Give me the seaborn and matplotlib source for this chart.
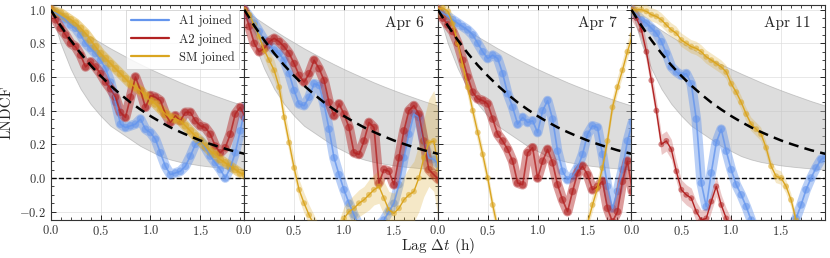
import matplotlib
matplotlib.use("Agg")
import matplotlib.pyplot as plt
import seaborn as sns
from matplotlib.lines import Line2D
from matplotlib.ticker import MultipleLocator

# lag grid (h) shared by all series
lag = [0.00, 0.05, 0.10, 0.15, 0.20, 0.25, 0.30, 0.35, 0.40, 0.45,
       0.50, 0.55, 0.60, 0.65, 0.70, 0.75, 0.80, 0.85, 0.90, 0.95,
       1.00, 1.05, 1.10, 1.15, 1.20, 1.25, 1.30, 1.35, 1.40, 1.45,
       1.50, 1.55, 1.60, 1.65, 1.70, 1.75, 1.80, 1.85, 1.90, 1.95]

# model curve and its envelope
model_t = [0.0, 0.1, 0.2, 0.3, 0.4, 0.5, 0.6, 0.7, 0.8, 0.9, 1.0,
           1.1, 1.2, 1.3, 1.4, 1.5, 1.6, 1.7, 1.8, 1.9, 2.0]
model_fit = [1.00, 0.905, 0.819, 0.741, 0.670, 0.607, 0.549, 0.497, 0.449, 0.407, 0.368,
             0.333, 0.301, 0.273, 0.247, 0.223, 0.202, 0.183, 0.165, 0.150, 0.135]
model_hi = [1.00, 0.957, 0.917, 0.878, 0.840, 0.805, 0.770, 0.738, 0.706, 0.676, 0.647,
            0.620, 0.594, 0.568, 0.544, 0.521, 0.499, 0.478, 0.457, 0.438, 0.419]
model_lo = [1.00, 0.80, 0.65, 0.53, 0.44, 0.37, 0.31, 0.27, 0.23, 0.19, 0.16,
            0.13, 0.11, 0.095, 0.085, 0.075, 0.068, 0.062, 0.057, 0.052, 0.048]

# all days joined
a1_all = [1.00, 0.98, 0.96, 0.94, 0.91, 0.89, 0.85, 0.80, 0.77, 0.74,
          0.70, 0.65, 0.57, 0.45, 0.32, 0.30, 0.31, 0.32, 0.35, 0.29,
          0.27, 0.23, 0.15, 0.07, 0.02, 0.03, 0.04, 0.07, 0.13, 0.20,
          0.22, 0.18, 0.13, 0.09, 0.05, 0.00, 0.06, 0.15, 0.28, 0.42]
a2_all = [1.00, 0.94, 0.89, 0.85, 0.80, 0.78, 0.73, 0.66, 0.69, 0.66,
          0.62, 0.57, 0.53, 0.48, 0.39, 0.36, 0.48, 0.60, 0.52, 0.42,
          0.49, 0.48, 0.46, 0.38, 0.33, 0.37, 0.34, 0.39, 0.39, 0.34,
          0.31, 0.30, 0.26, 0.19, 0.15, 0.18, 0.26, 0.38, 0.42, 0.36]
sm_all = [1.00, 0.99, 0.98, 0.96, 0.94, 0.92, 0.89, 0.86, 0.82, 0.78,
          0.74, 0.71, 0.68, 0.65, 0.62, 0.59, 0.56, 0.54, 0.52, 0.49,
          0.46, 0.44, 0.41, 0.38, 0.36, 0.35, 0.34, 0.31, 0.28, 0.25,
          0.22, 0.19, 0.16, 0.14, 0.11, 0.09, 0.07, 0.05, 0.03, 0.02]

# Apr 6
a1_apr6 = [1.00, 0.96, 0.92, 0.87, 0.82, 0.79, 0.76, 0.74, 0.70, 0.62,
           0.52, 0.44, 0.43, 0.48, 0.56, 0.55, 0.44, 0.29, 0.12, 0.02,
           -0.07, -0.15, -0.22, -0.28, -0.30, -0.30, -0.30, -0.28, -0.25, -0.20,
           -0.15, -0.04, 0.12, 0.26, 0.38, 0.36, 0.21, 0.12, 0.11, 0.08]
a2_apr6 = [1.00, 0.90, 0.80, 0.75, 0.77, 0.81, 0.83, 0.81, 0.78, 0.74,
           0.68, 0.61, 0.57, 0.62, 0.70, 0.65, 0.58, 0.45, 0.37, 0.44,
           0.38, 0.30, 0.15, 0.14, 0.22, 0.33, 0.30, -0.03, 0.05, 0.04,
           -0.04, 0.12, 0.28, 0.40, 0.43, 0.38, 0.22, 0.05, 0.02, -0.01]
sm_apr6 = [1.00, 0.97, 0.91, 0.84, 0.76, 0.70, 0.64, 0.54, 0.36, 0.21,
           0.06, -0.07, -0.15, -0.22, -0.28, -0.34, -0.38, -0.40, -0.38, -0.32,
           -0.24, -0.20, -0.18, -0.15, -0.13, -0.10, -0.07, -0.05, -0.12, -0.19,
           -0.21, -0.18, -0.13, -0.10, -0.08, 0.00, 0.12, 0.21, 0.22, 0.05]
sm_apr6_err = [0.02, 0.03, 0.04, 0.05, 0.05, 0.06, 0.06, 0.06, 0.06, 0.06,
               0.06, 0.06, 0.06, 0.06, 0.06, 0.06, 0.06, 0.06, 0.07, 0.07,
               0.07, 0.07, 0.08, 0.08, 0.08, 0.09, 0.09, 0.10, 0.10, 0.11,
               0.12, 0.13, 0.14, 0.16, 0.18, 0.20, 0.23, 0.26, 0.30, 0.32]

# Apr 7
a1_apr7 = [1.00, 0.98, 0.96, 0.94, 0.92, 0.90, 0.88, 0.85, 0.80, 0.75,
           0.71, 0.73, 0.71, 0.62, 0.50, 0.42, 0.32, 0.36, 0.33, 0.34,
           0.27, 0.40, 0.46, 0.35, 0.16, 0.04, -0.01, 0.01, 0.06, 0.14,
           0.26, 0.31, 0.30, 0.14, -0.05, -0.18, -0.08, 0.05, 0.22, 0.33]
a2_apr7 = [1.00, 0.95, 0.91, 0.87, 0.80, 0.70, 0.60, 0.51, 0.47, 0.46,
           0.44, 0.35, 0.26, 0.22, 0.17, 0.10, -0.03, -0.04, 0.15, 0.18,
           0.00, 0.10, 0.17, 0.09, -0.04, -0.13, -0.20, -0.08, 0.03, 0.07,
           0.02, -0.07, -0.05, -0.02, -0.18, -0.26, -0.20, -0.02, 0.10, -0.08]
sm_apr7 = [1.00, 1.01, 0.99, 0.92, 0.80, 0.67, 0.54, 0.40, 0.27, 0.14,
           0.00, -0.16, -0.30, -0.40, -0.46, -0.50, -0.52, -0.53, -0.54, -0.54,
           -0.54, -0.54, -0.54, -0.53, -0.52, -0.51, -0.50, -0.48, -0.45, -0.38,
           -0.27, -0.16, -0.06, 0.06, 0.22, 0.42, 0.54, 0.64, 0.75, 0.85]

# Apr 11
a1_apr11 = [1.00, 0.97, 0.94, 0.92, 0.89, 0.86, 0.81, 0.74, 0.66, 0.63,
            0.61, 0.62, 0.56, 0.35, -0.03, -0.17, 0.03, 0.21, 0.29, 0.16,
            0.05, -0.04, -0.10, -0.17, -0.25, -0.32, -0.36, -0.38, -0.40, -0.40,
            -0.38, -0.34, -0.30, -0.24, -0.16, -0.07, 0.00, 0.06, 0.11, 0.13]
a2_apr11 = [1.00, 0.95, 0.88, 0.75, 0.58, 0.40, 0.20, 0.22, 0.17, 0.04,
            -0.07, -0.10, -0.12, -0.20, -0.25, -0.24, -0.14, -0.05, -0.16, -0.24,
            -0.30, -0.35, -0.38, -0.40, -0.40, -0.40, -0.40, -0.40, -0.40, -0.40,
            -0.40, -0.40, -0.40, -0.40, -0.40, -0.40, -0.40, -0.40, -0.40, -0.40]
sm_apr11 = [1.00, 1.00, 1.00, 0.99, 0.97, 0.96, 0.94, 0.91, 0.88, 0.86,
            0.82, 0.80, 0.78, 0.77, 0.75, 0.72, 0.70, 0.68, 0.66, 0.63,
            0.56, 0.51, 0.45, 0.38, 0.32, 0.29, 0.26, 0.18, 0.07, 0.01,
            0.00, -0.05, -0.13, -0.25, -0.35, -0.42, -0.48, -0.52, -0.55, -0.57]

panel_titles = ["", "Apr 6", "Apr 7", "Apr 11"]
series_names = ["A1 joined", "A2 joined", "SM joined"]
colors = ["#6495ED", "#B22222", "#DAA520"]

# (values, band half-width or None for the dense ones)
panels = [
    [(a1_all, None), (a2_all, None), (sm_all, None)],
    [(a1_apr6, None), (a2_apr6, None), (sm_apr6, sm_apr6_err)],
    [(a1_apr7, None), (a2_apr7, None), (sm_apr7, 0.05)],
    [(a1_apr11, None), (a2_apr11, 0.06), (sm_apr11, 0.04)],
]

sns.set_style("ticks")
plt.rcParams["font.family"] = ["cmr10"]
plt.rcParams["mathtext.fontset"] = "cm"
plt.rcParams["axes.formatter.use_mathtext"] = True

fig, axes = plt.subplots(1, 4, figsize=(8.3, 2.58), dpi=100, sharey=True)
fig.subplots_adjust(left=0.061, right=0.994, top=0.982, bottom=0.147, wspace=0)

for i, ax in enumerate(axes):
    ax.fill_between(model_t, model_lo, model_hi, color="#BDBDBD", alpha=0.5,
                    edgecolor="#999999", linewidth=0.6, zorder=1)
    ax.axhline(0, color="black", ls="--", lw=1.0, zorder=2)

    for (vals, err), c in zip(panels[i], colors):
        if err is None:
            sns.lineplot(x=lag, y=vals, ax=ax, color=c, lw=7, alpha=0.45, zorder=3,
                         solid_capstyle="round", solid_joinstyle="round")
            sns.scatterplot(x=lag, y=vals, ax=ax, color=c, s=30, alpha=0.6,
                            edgecolor="none", zorder=3)
            sns.lineplot(x=lag, y=vals, ax=ax, color=c, lw=1.2, alpha=0.8, zorder=4)
        else:
            if isinstance(err, float):
                lo = [v - err for v in vals]
                hi = [v + err for v in vals]
            else:
                lo = [v - e for v, e in zip(vals, err)]
                hi = [v + e for v, e in zip(vals, err)]
            ax.fill_between(lag, lo, hi, color=c, alpha=0.25, lw=0, zorder=3)
            sns.scatterplot(x=lag, y=vals, ax=ax, color=c, s=18, alpha=0.55,
                            edgecolor="none", zorder=3)
            sns.lineplot(x=lag, y=vals, ax=ax, color=c, lw=1.0, zorder=4)

    ax.plot(model_t, model_fit, color="black", ls=(0, (4, 2.5)), lw=1.8, zorder=5)

    ax.set_xlim(0, 1.94)
    ax.set_ylim(-0.25, 1.03)
    ax.xaxis.set_major_locator(MultipleLocator(0.5))
    ax.xaxis.set_minor_locator(MultipleLocator(0.1))
    ax.yaxis.set_major_locator(MultipleLocator(0.2))
    ax.yaxis.set_minor_locator(MultipleLocator(0.05))
    ax.tick_params(which="both", direction="in", top=True, right=True,
                   labelsize=9, pad=3, labelcolor="#333333")
    ax.tick_params(which="major", length=3.5, width=0.7)
    ax.tick_params(which="minor", length=2, width=0.6)
    ax.grid(True, which="major", color="#DDDDDD", lw=0.6, alpha=0.8)
    ax.set_axisbelow(True)
    for sp in ax.spines.values():
        sp.set_linewidth(0.8)
        sp.set_color("#333333")
    ax.set_xlabel("")
    if panel_titles[i]:
        ax.text(0.925, 0.945, panel_titles[i], transform=ax.transAxes,
                ha="right", va="top", fontsize=11)

axes[0].set_ylabel("LNDCF", fontsize=11, labelpad=4)
handles = [Line2D([0], [0], color=c, lw=1.6) for c in colors]
leg = axes[0].legend(handles, series_names, loc="upper right", fontsize=9,
                     handlelength=3.0, frameon=True, fancybox=False,
                     borderaxespad=0.4, labelspacing=0.45)
leg.get_frame().set_edgecolor("#CCCCCC")
leg.get_frame().set_linewidth(0.6)

fig.text(0.5 * (0.061 + 0.994), 0.045, r"Lag $\Delta t$ (h)", ha="center",
         va="center", fontsize=11)

fig.savefig("out.png", dpi=100)
